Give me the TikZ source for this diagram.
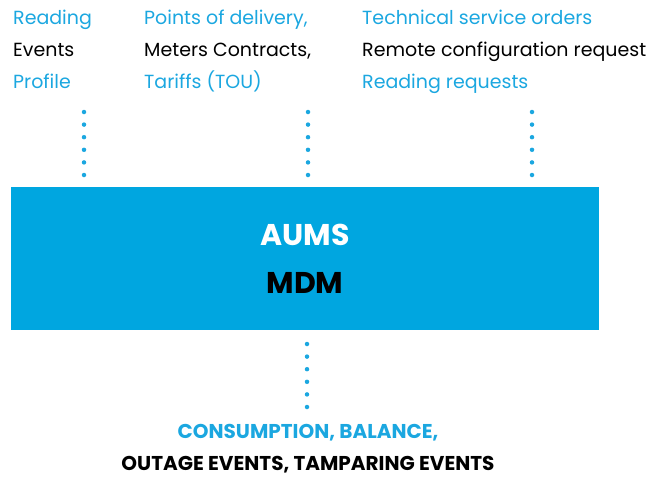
\documentclass[tikz,border=0pt]{standalone}
\usepackage{fontspec}
\setmainfont{Poppins}
\usetikzlibrary{positioning}
\definecolor{aumsblue}{RGB}{0,166,224}
\definecolor{labelblue}{RGB}{27,167,224}
\begin{document}
\begin{tikzpicture}[x=1pt,y=-1pt]
				\tikzstyle{Label} = [anchor=north west, align=left, inner sep=0pt, font=\fontsize{19}{32}\selectfont]
				\tikzstyle{Dots} = [labelblue, line width=4.5pt, line cap=round, dash pattern=on 0pt off 12.6pt, shorten >=11pt]
				\useasboundingbox (0,0) rectangle (651,477);
				\node (mdm) at (305,258.5) [fill=aumsblue, minimum width=588, minimum height=143, inner sep=0pt, align=center, font=\bfseries\fontsize{30}{48}\selectfont] {\textcolor{white}{AUMS}\\MDM};
				\node (reading) at (13,10) [Label] {\textcolor{labelblue}{Reading}\\Events\\\textcolor{labelblue}{Profile}};
				\node (delivery) at (144,10) [Label] {\textcolor{labelblue}{Points of delivery,}\\Meters Contracts,\\\textcolor{labelblue}{Tariffs (TOU)}};
				\node (orders) at (362,10) [Label] {\textcolor{labelblue}{Technical service orders}\\Remote configuration request\\\textcolor{labelblue}{Reading requests}};
				\node (output) at (308,449) [align=center, inner sep=0pt, font=\bfseries\fontsize{20}{32}\selectfont] {\textcolor{labelblue}{CONSUMPTION, BALANCE,}\\OUTAGE EVENTS, TAMPARING EVENTS};
				\coordinate (c1) at (84,112);
				\coordinate (c2) at (308,112);
				\coordinate (c3) at (532,112);
				\coordinate (c4) at (307,344);
				\coordinate (c5) at (307,408);
				\draw [Dots] (c1) to (c1 |- mdm.north);
				\draw [Dots] (c2) to (c2 |- mdm.north);
				\draw [Dots] (c3) to (c3 |- mdm.north);
				\draw [Dots, shorten >=0pt] (c4) to (c5);
			\end{tikzpicture}
\end{document}
